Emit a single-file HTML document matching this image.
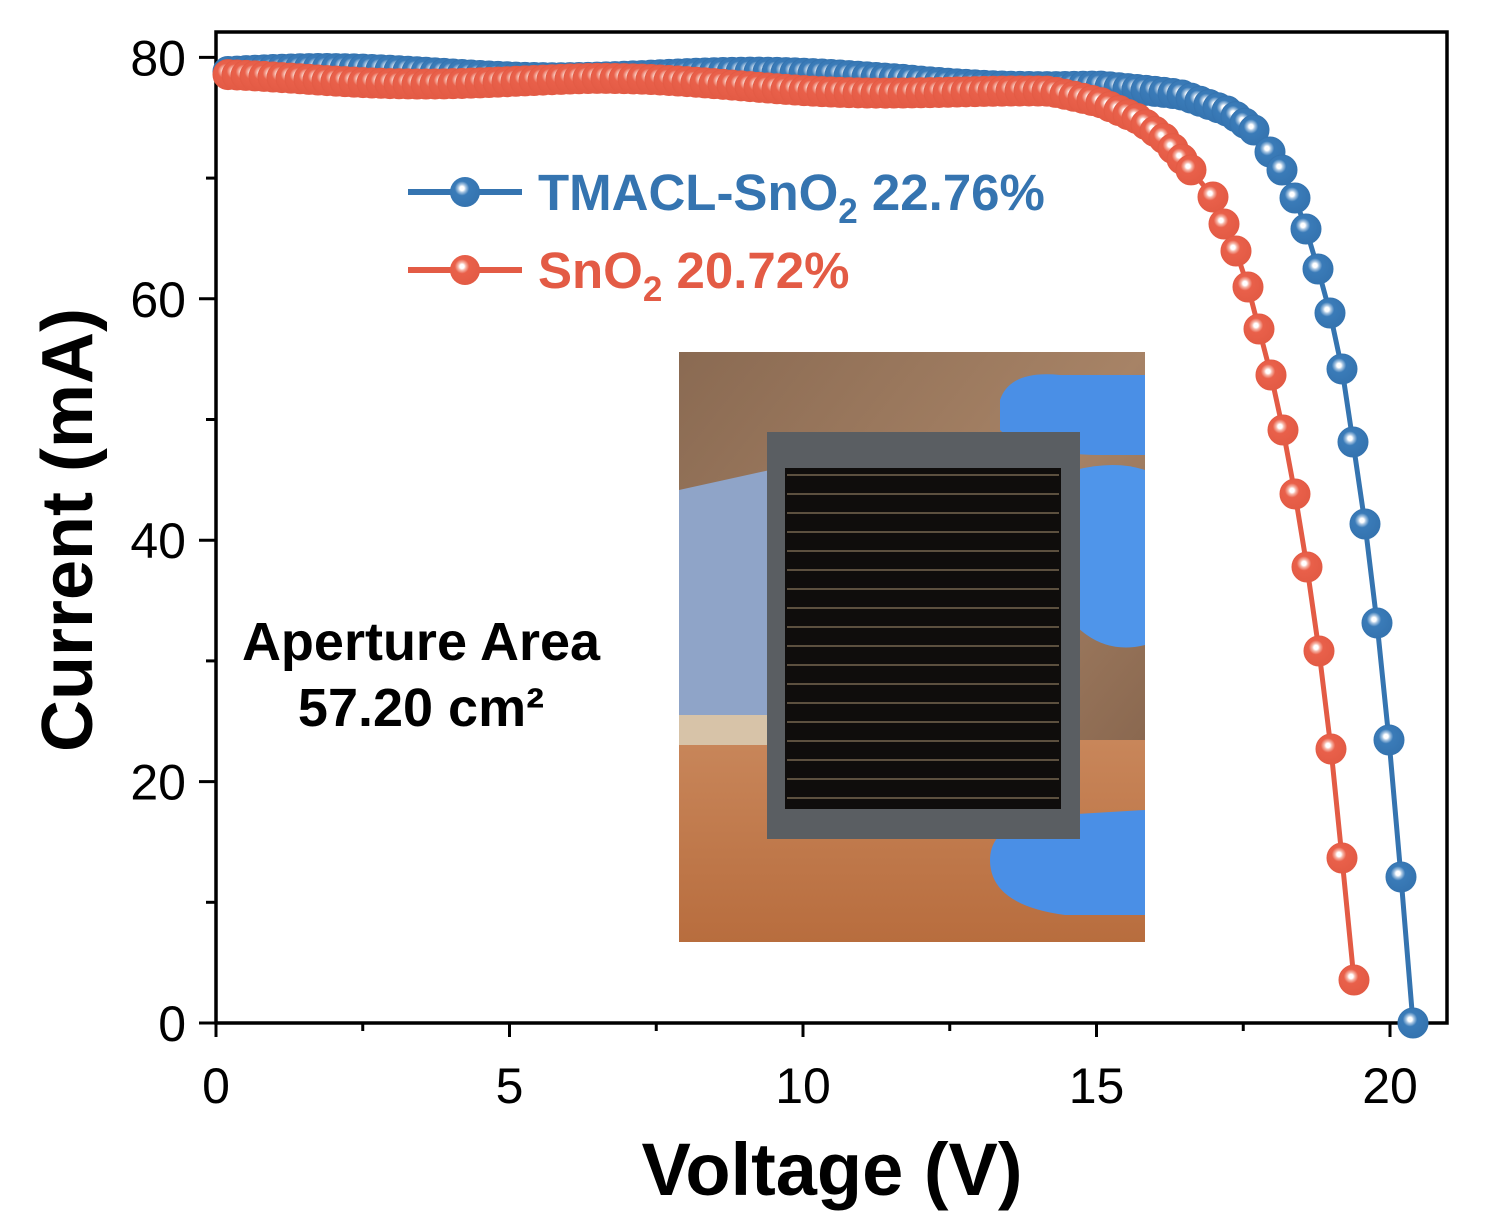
<!DOCTYPE html>
<html><head><meta charset="utf-8"><style>
body{margin:0;background:#fff}
svg{display:block}
text{font-family:"Liberation Sans",Arial,sans-serif}
</style></head><body>
<svg id="s" width="1500" height="1228" viewBox="0 0 1500 1228" xmlns="http://www.w3.org/2000/svg">
<defs>
<radialGradient id="gb" cx="0.4" cy="0.38" r="0.6">
<stop offset="0" stop-color="#fff"/><stop offset="0.12" stop-color="#fff"/><stop offset="0.22" stop-color="#a9c6e2"/><stop offset="0.4" stop-color="#3a7bb8"/><stop offset="1" stop-color="#3574b0"/></radialGradient>
<radialGradient id="gr" cx="0.4" cy="0.38" r="0.6">
<stop offset="0" stop-color="#fff"/><stop offset="0.12" stop-color="#fff"/><stop offset="0.22" stop-color="#f6b6a8"/><stop offset="0.4" stop-color="#e9604a"/><stop offset="1" stop-color="#e35b45"/></radialGradient>
<linearGradient id="bg" x1="0" y1="0" x2="1" y2="1"><stop offset="0" stop-color="#8a6a52"/><stop offset="0.5" stop-color="#a78366"/><stop offset="1" stop-color="#7b5a44"/></linearGradient>
<linearGradient id="ground" x1="0" y1="0" x2="0" y2="1"><stop offset="0" stop-color="#c8865a"/><stop offset="1" stop-color="#b86d3e"/></linearGradient>
</defs>
<g>
<rect x="679" y="352" width="466" height="590" fill="url(#bg)"/>
<rect x="679" y="740" width="466" height="202" fill="url(#ground)"/>
<polygon points="679,490 770,470 770,720 679,715" fill="#8fa4c8"/>
<rect x="679" y="715" width="95" height="30" fill="#d7c3a8"/>
<path d="M1000,400 q10,-30 60,-25 l85,0 l0,80 l-40,0 q-80,0 -105,-25z" fill="#4a8fe6"/>
<path d="M1075,470 q40,-10 70,0 l0,175 q-40,10 -70,-20z" fill="#4f95ea"/>
<path d="M990,860 q0,-40 70,-45 l85,-5 l0,105 l-80,0 q-75,-10 -75,-55z" fill="#4a8fe6"/>
<rect x="767" y="432" width="313" height="407" fill="#5a5e62"/>
<rect x="785" y="468" width="276" height="341" fill="#0f0d0c"/>
<g id="lines" stroke="#8b7a5e" stroke-width="1.3"></g>
</g>
<rect x="216" y="32" width="1231" height="991" fill="none" stroke="#000" stroke-width="3.5"/>
<g id="ticks" stroke="#000" stroke-width="3"></g>
<g id="labs" font-size="50" fill="#000"></g>
<g id="data"></g>
<line x1="408" y1="192" x2="522" y2="192" stroke="#3574b0" stroke-width="6"/>
<circle cx="465" cy="192" r="15" fill="url(#gb)"/>
<text x="538" y="210" font-size="51" font-weight="bold" fill="#3574b0">TMACL-SnO<tspan font-size="35" dy="13">2</tspan><tspan dy="-13"> 22.76%</tspan></text>
<line x1="408" y1="270" x2="522" y2="270" stroke="#e35b45" stroke-width="6"/>
<circle cx="465" cy="270" r="15" fill="url(#gr)"/>
<text x="538" y="288" font-size="51" font-weight="bold" fill="#e35b45">SnO<tspan font-size="35" dy="13">2</tspan><tspan dy="-13"> 20.72%</tspan></text>
<text x="421" y="660" font-size="54" font-weight="bold" text-anchor="middle">Aperture Area</text>
<text x="421" y="726" font-size="54" font-weight="bold" text-anchor="middle">57.20 cm²</text>
<text x="832" y="1195" font-size="74" font-weight="bold" text-anchor="middle">Voltage (V)</text>
<text transform="translate(92,530) rotate(-90)" font-size="72" font-weight="bold" text-anchor="middle">Current (mA)</text>
</svg>
<script>
var NS="http://www.w3.org/2000/svg";
function el(p,t,a,txt){var e=document.createElementNS(NS,t);for(var k in a)e.setAttribute(k,a[k]);if(txt!==undefined)e.textContent=txt;document.getElementById(p).appendChild(e);return e;}
for(var i=0;i<18;i++){var y=475+i*19;el("lines","line",{x1:787,x2:1059,y1:y,y2:y});}
function X(v){return 216+v*58.7}function Y(v){return 1023-v*12.07}
for(var v=0;v<=20;v+=2.5){var x=X(v);el("ticks","line",{x1:x,x2:x,y1:1023,y2:v%5==0?1037:1031});if(v%5==0)el("labs","text",{x:x,y:1103,"text-anchor":"middle"},String(v));}
for(var m=0;m<=80;m+=10){var y=Y(m);el("ticks","line",{x1:216,x2:m%20==0?199:206,y1:y,y2:y});if(m%20==0)el("labs","text",{x:186,y:y+18,"text-anchor":"end"},String(m));}
function interp(pts,x){for(var i=0;i<pts.length-1;i++){if(x>=pts[i][0]&&x<=pts[i+1][0]){var t=(x-pts[i][0])/(pts[i+1][0]-pts[i][0]);return pts[i][1]+t*(pts[i+1][1]-pts[i][1]);}}return pts[pts.length-1][1];}
var blueFlat=[[228,72],[600,74],[900,78],[1100,86],[1180,98],[1230,116],[1255,134]];
var blueKnee=[[1270,152],[1282,170],[1295,198],[1306,229],[1318,269],[1330,313],[1342,369],[1353,442],[1365,524],[1377,623],[1389,740],[1401,877],[1413,1023]];
var redFlat=[[228,78],[600,82],[900,90],[1050,95],[1100,106],[1140,122],[1165,140],[1190,168],[1200,180]];
var redKnee=[[1213,197],[1224,224],[1236,251],[1248,287],[1259,329],[1271,375],[1283,430],[1295,494],[1307,567],[1319,651],[1331,749],[1342,858],[1354,980]];
function series(flat,knee,col,g,ph){
 var pts=[];for(var x=flat[0][0];x<flat[flat.length-1][0];x+=9){pts.push([x,interp(flat,x)+4*Math.sin(x/70+ph)]);}
 pts=pts.concat(knee);
 var d="M"+pts.map(function(p){return p[0]+","+p[1]}).join(" L");
 el("data","path",{d:d,fill:"none",stroke:col,"stroke-width":5});
 pts.forEach(function(p){el("data","circle",{cx:p[0],cy:p[1],r:15,fill:"url(#"+g+")",stroke:col,"stroke-width":1});});
}
series(blueFlat,blueKnee,"#3574b0","gb",0);
series(redFlat,redKnee,"#e35b45","gr",2);
</script>
</body></html>
